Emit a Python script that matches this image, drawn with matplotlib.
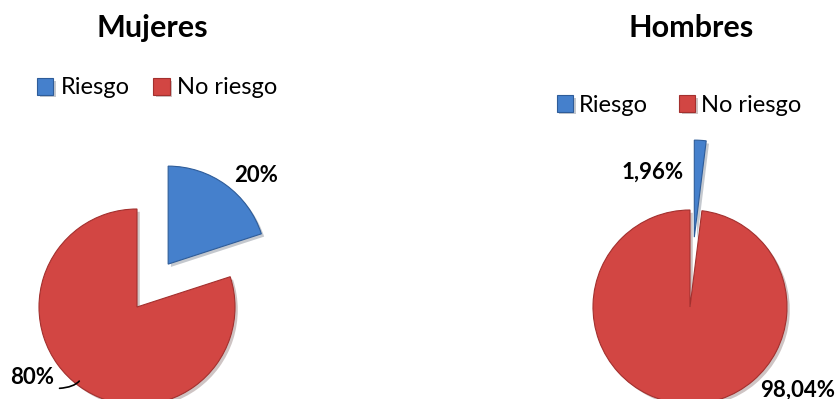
import matplotlib.pyplot as plt
import matplotlib.patheffects as pe
import numpy as np

# data
categories = ['Riesgo', 'No riesgo']
mujeres = [20, 80]
hombres = [1.96, 98.04]
mujeres_labels = ['20%', '80%']
hombres_labels = ['1,96%', '98,04%']

colors = ['#4580CC', '#D24643']
edge_colors = ['#2E5C99', '#A3302E']

plt.rcParams['font.family'] = ['Lato', 'DejaVu Sans']

fig = plt.figure(figsize=(8.39, 3.99), dpi=100)
ax1 = fig.add_axes([0, 0, 0.5, 1])
ax2 = fig.add_axes([0.5, 0, 0.5, 1])


def draw_pie(ax, values, center, radius, explode):
    """
    Draw one exploded pie in pixel coordinates, first slice going clockwise from 12 o'clock
    """
    wedges, _ = ax.pie(values, explode=explode, startangle=90, counterclock=False,
                       colors=colors, center=center, radius=radius,
                       wedgeprops=dict(linewidth=0.8))
    for w, ec in zip(wedges, edge_colors):
        w.set_edgecolor(ec)
        w.set_path_effects([pe.SimplePatchShadow(offset=(2, -2), alpha=0.25), pe.Normal()])
    return wedges


# Mujeres (left)
w1 = draw_pie(ax1, mujeres, center=(137, 92), radius=98, explode=[53, 0])
ax1.set_xlim(0, 419.5)
ax1.set_ylim(0, 399)
ax1.set_aspect('auto')
ax1.axis('off')
ax1.text(152, 371, 'Mujeres', ha='center', va='center', fontsize=22, fontweight='bold')
ax1.legend(w1, categories, loc='center', bbox_to_anchor=(157, 311), bbox_transform=ax1.transData,
           ncol=2, frameon=False, fontsize=17, handlelength=0.7, handleheight=0.7,
           handletextpad=0.3, columnspacing=1.0, borderpad=0)
ax1.text(256, 224, mujeres_labels[0], ha='center', va='center', fontsize=16, fontweight='bold')
# 80% label with a short leader line to the wedge
ang = np.deg2rad(232)
edge_pt = (137 + 0.93 * 98 * np.cos(ang), 92 + 0.93 * 98 * np.sin(ang))
ax1.annotate(mujeres_labels[1], xy=edge_pt, xytext=(32, 21), ha='center', va='center',
             fontsize=16, fontweight='bold',
             arrowprops=dict(arrowstyle='-', color='black', lw=1.2, relpos=(1, 0),
                             connectionstyle='angle3,angleA=0,angleB=60'))

# Hombres (right)
w2 = draw_pie(ax2, hombres, center=(690, 92), radius=97, explode=[70, 0])
ax2.set_xlim(419.5, 839)
ax2.set_ylim(0, 399)
ax2.set_aspect('auto')
ax2.axis('off')
ax2.text(691, 371, 'Hombres', ha='center', va='center', fontsize=22, fontweight='bold')
ax2.legend(w2, categories, loc='center', bbox_to_anchor=(679, 294), bbox_transform=ax2.transData,
           ncol=2, frameon=False, fontsize=17, handlelength=0.7, handleheight=0.7,
           handletextpad=0.25, columnspacing=1.3, borderpad=0)
ax2.text(653, 227, hombres_labels[0], ha='center', va='center', fontsize=16, fontweight='bold')
ax2.text(798, 9, hombres_labels[1], ha='center', va='center', fontsize=16, fontweight='bold')

fig.savefig('out.png', dpi=100)
